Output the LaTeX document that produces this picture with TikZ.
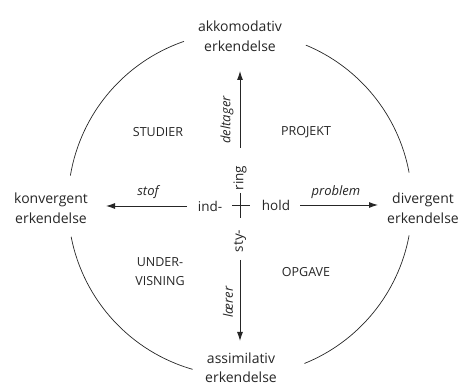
\documentclass[tikz,border=0pt]{standalone}
\usepackage{fontspec}
\setmainfont{Open Sans}
\usetikzlibrary{arrows.meta}
\definecolor{ink}{HTML}{262626}
\begin{document}
\begin{tikzpicture}[x=1pt,y=1pt,
  every node/.style={text=ink, inner sep=1pt},
  pole/.style={font=\fontsize{14}{20}\selectfont, align=center},
  quad/.style={font=\fontsize{12.5}{19}\selectfont, align=center},
  lab/.style={font=\fontsize{13}{16}\itshape},
  word/.style={font=\fontsize{13.5}{16}\selectfont},
  arr/.style={draw=ink, line width=0.9pt, -{Latex[length=9pt,width=6pt]}},
  ring/.style={draw=ink, line width=0.7pt}]
\useasboundingbox (0,0) rectangle (458,388);

% poles of the circle
\node[pole] (akk) at (240,352) {akkomodativ\\erkendelse};
\node[pole] (kon) at (51,180) {konvergent\\erkendelse};
\node[pole] (div) at (423,180) {divergent\\erkendelse};
\node[pole, font=\fontsize{14}{19}\selectfont, inner sep=0pt] (ass) at (241,20) {assimilativ\\erkendelse};

% circle, broken at the four poles
\coordinate (c) at (240,184);
\draw[ring] (c) ++(10.5:172) arc[start angle=10.5, end angle=67.5, radius=172];
\draw[ring] (c) ++(109:172) arc[start angle=109, end angle=170.5, radius=172];
\draw[ring] (c) ++(191:172) arc[start angle=191, end angle=254, radius=172];
\draw[ring] (c) ++(292:172) arc[start angle=292, end angle=349.5, radius=172];

% quadrants
\node[quad] (stu) at (158,256) {STUDIER};
\node[quad] (pro) at (306,256) {PROJEKT};
\node[quad] (und) at (160,116) {UNDER-\\VISNING};
\node[quad] (opg) at (306,116) {OPGAVE};

% centre: ind-hold and sty-ring around a small cross
\node[word] (ind) at (210,182) {ind-};
\node[word] (hold) at (276,183) {hold};
\node[word, rotate=90] (ring) at (240,210) {ring};
\node[word, rotate=90] (sty) at (240,147) {sty-};
\coordinate (cw) at (232,183);
\coordinate (ce) at (250,183);
\coordinate (cn) at (240,195);
\coordinate (cs) at (240,170);
\draw[draw=ink, line width=0.6pt] (cw) -- (ce) (cn) -- (cs);

% arrows towards the poles
\coordinate (l0) at (187,182);
\coordinate (l1) at (106,182);
\coordinate (r0) at (300,183);
\coordinate (r1) at (378,183);
\coordinate (u0) at (240,240);
\coordinate (u1) at (240,317);
\coordinate (d0) at (240,128);
\coordinate (d1) at (240,47);
\draw[arr] (l0) -- (l1);
\draw[arr] (r0) -- (r1);
\draw[arr] (u0) -- (u1);
\draw[arr] (d0) -- (d1);

% arrow labels
\node[lab] (stof) at (148,196) {stof};
\node[lab] (prob) at (336,196) {problem};
\node[lab, rotate=90] (delt) at (227,268) {deltager};
\node[lab, rotate=90] (laer) at (228,86) {lærer};
\end{tikzpicture}
\end{document}
